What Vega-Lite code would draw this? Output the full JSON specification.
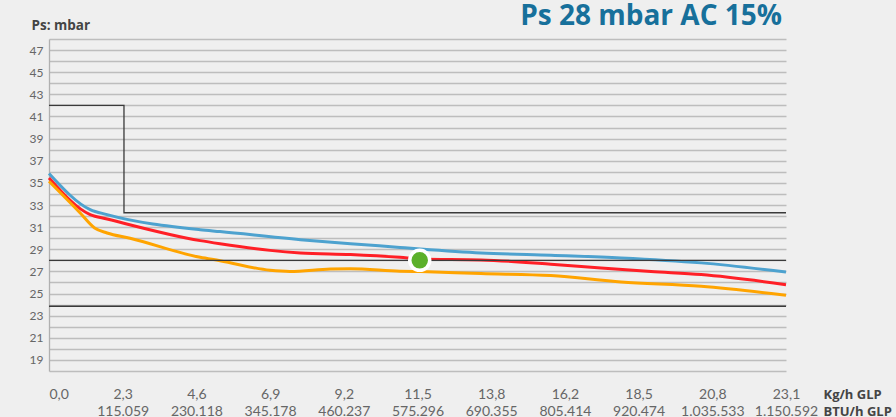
{
  "$schema": "https://vega.github.io/schema/vega-lite/v6.json",
  "width": 737,
  "height": 332,
  "autosize": {"type": "none"},
  "padding": {"left": 49, "top": 39, "right": 110, "bottom": 46},
  "background": "#efefef",
  "config": {"view": {"stroke": null}, "font": "Lato"},
  "title": {
    "text": "Ps 28 mbar AC 15%",
    "anchor": "end",
    "frame": "group",
    "fontSize": 28,
    "fontWeight": "bold",
    "color": "#17709b",
    "font": "Open Sans",
    "baseline": "alphabetic",
    "offset": 11,
    "dy": 46,
    "dx": -4
  },
  "datasets": {
    "curves": [
      {"series": "A", "kg": 0, "p": 35.85},
      {"series": "A", "kg": 1.29, "p": 32.58},
      {"series": "A", "kg": 1.82, "p": 32.13},
      {"series": "A", "kg": 4.74, "p": 30.77},
      {"series": "A", "kg": 5.36, "p": 30.6},
      {"series": "A", "kg": 7.88, "p": 29.87},
      {"series": "A", "kg": 9.45, "p": 29.5},
      {"series": "A", "kg": 11.0, "p": 29.17},
      {"series": "A", "kg": 11.64, "p": 29.03},
      {"series": "A", "kg": 13.54, "p": 28.67},
      {"series": "A", "kg": 15.73, "p": 28.45},
      {"series": "A", "kg": 17.93, "p": 28.22},
      {"series": "A", "kg": 20.44, "p": 27.77},
      {"series": "A", "kg": 23.1, "p": 26.95},
      {"series": "B", "kg": 0, "p": 35.45},
      {"series": "B", "kg": 1.29, "p": 32.13},
      {"series": "B", "kg": 1.82, "p": 31.74},
      {"series": "B", "kg": 4.74, "p": 29.78},
      {"series": "B", "kg": 5.36, "p": 29.5},
      {"series": "B", "kg": 6.93, "p": 28.9},
      {"series": "B", "kg": 7.88, "p": 28.67},
      {"series": "B", "kg": 9.45, "p": 28.52},
      {"series": "B", "kg": 11.0, "p": 28.27},
      {"series": "B", "kg": 11.64, "p": 28.13},
      {"series": "B", "kg": 13.54, "p": 28.04},
      {"series": "B", "kg": 15.73, "p": 27.65},
      {"series": "B", "kg": 17.3, "p": 27.3},
      {"series": "B", "kg": 18.87, "p": 26.98},
      {"series": "B", "kg": 20.44, "p": 26.71},
      {"series": "B", "kg": 23.1, "p": 25.8},
      {"series": "C", "kg": 0, "p": 35.14},
      {"series": "C", "kg": 0.97, "p": 32.3},
      {"series": "C", "kg": 1.43, "p": 30.92},
      {"series": "C", "kg": 1.82, "p": 30.47},
      {"series": "C", "kg": 2.54, "p": 29.99},
      {"series": "C", "kg": 4.74, "p": 28.27},
      {"series": "C", "kg": 5.36, "p": 27.97},
      {"series": "C", "kg": 6.93, "p": 27.1},
      {"series": "C", "kg": 7.55, "p": 27.0},
      {"series": "C", "kg": 8.82, "p": 27.22},
      {"series": "C", "kg": 9.45, "p": 27.25},
      {"series": "C", "kg": 11.0, "p": 27.02},
      {"series": "C", "kg": 11.64, "p": 26.98},
      {"series": "C", "kg": 13.54, "p": 26.8},
      {"series": "C", "kg": 15.73, "p": 26.62},
      {"series": "C", "kg": 17.93, "p": 26.05},
      {"series": "C", "kg": 20.44, "p": 25.65},
      {"series": "C", "kg": 23.1, "p": 24.84}
    ],
    "step": [
      {"kg": 0, "p": 42},
      {"kg": 2.35, "p": 32.3},
      {"kg": 23.1, "p": 32.3}
    ],
    "refs": [
      {"p": 28},
      {"p": 23.85}
    ],
    "dot": [
      {"kg": 11.62, "p": 28}
    ]
  },
  "layer": [
    {
      "data": {"name": "curves"},
      "mark": {"type": "line", "strokeWidth": 3, "interpolate": "monotone"},
      "encoding": {
        "x": {
          "field": "kg",
          "type": "quantitative",
          "scale": {"domain": [0, 23.1], "nice": false, "zero": false},
          "axis": {
            "values": [0, 2.31, 4.62, 6.93, 9.24, 11.55, 13.86, 16.17, 18.48, 20.79, 23.1],
            "tickCount": 50,
            "labelExpr": "[['0,0'],['2,3','115.059'],['4,6','230.118'],['6,9','345.178'],['9,2','460.237'],['11,5','575.296'],['13,8','690.355'],['16,2','805.414'],['18,5','920.474'],['20,8','1.035.533'],['23,1','1.150.592']][round(datum.value/2.31)]",
            "grid": false,
            "ticks": false,
            "domain": false,
            "labelOverlap": false,
            "labelFlush": false,
            "labelBaseline": "alphabetic",
            "labelPadding": 27,
            "labelFontSize": 14,
            "labelColor": "#666666",
            "labelLineHeight": 17,
            "labelAlign": {"condition": {"test": "datum.value == 0", "value": "left"}, "value": "center"},
            "title": ["Kg/h GLP", "BTU/h GLP"],
            "titleX": 774,
            "titleY": 27,
            "titleAlign": "left",
            "titleAnchor": "start",
            "titleBaseline": "alphabetic",
            "titleFont": "Open Sans",
            "titleFontSize": 13,
            "titleFontWeight": "bold",
            "titleColor": "#444444",
            "titleLineHeight": 17
          }
        },
        "y": {
          "field": "p",
          "type": "quantitative",
          "scale": {"domain": [18, 48], "nice": false, "zero": false},
          "axis": {
            "values": [18,19,20,21,22,23,24,25,26,27,28,29,30,31,32,33,34,35,36,37,38,39,40,41,42,43,44,45,46,47,48],
            "tickCount": 100,
            "format": "d",
            "labelExpr": "datum.value % 2 == 1 ? datum.label : ''",
            "labelOverlap": false,
            "grid": true,
            "gridColor": "#bdbdbd",
            "gridWidth": 1.3,
            "ticks": false,
            "domain": true,
            "domainColor": "#b0b0b0",
            "domainWidth": 1.3,
            "labelPadding": 6,
            "labelFontSize": 12,
            "labelColor": "#666666",
            "title": "Ps: mbar",
            "titleAngle": 0,
            "titleAlign": "left",
            "titleBaseline": "alphabetic",
            "titleX": -18,
            "titleY": -10,
            "titleFont": "Open Sans",
            "titleFontSize": 13.5,
            "titleFontWeight": "bold",
            "titleColor": "#444444"
          }
        },
        "color": {
          "field": "series",
          "type": "nominal",
          "scale": {"domain": ["A", "B", "C"], "range": ["#4da2cf", "#ff1f26", "#ffa400"]},
          "legend": null
        }
      }
    },
    {
      "data": {"name": "step"},
      "mark": {"type": "line", "interpolate": "step-after", "color": "#3a3a3a", "strokeWidth": 1.3},
      "encoding": {
        "x": {"field": "kg", "type": "quantitative"},
        "y": {"field": "p", "type": "quantitative"}
      }
    },
    {
      "data": {"name": "refs"},
      "mark": {"type": "rule", "color": "#3a3a3a", "strokeWidth": 1.4},
      "encoding": {
        "y": {"field": "p", "type": "quantitative"}
      }
    },
    {
      "data": {"name": "dot"},
      "mark": {"type": "point", "filled": true, "fill": "#5bb02a", "stroke": "#ffffff", "strokeWidth": 3.5, "size": 400, "opacity": 1, "fillOpacity": 1, "strokeOpacity": 1},
      "encoding": {
        "x": {"field": "kg", "type": "quantitative"},
        "y": {"field": "p", "type": "quantitative"}
      }
    }
  ]
}
